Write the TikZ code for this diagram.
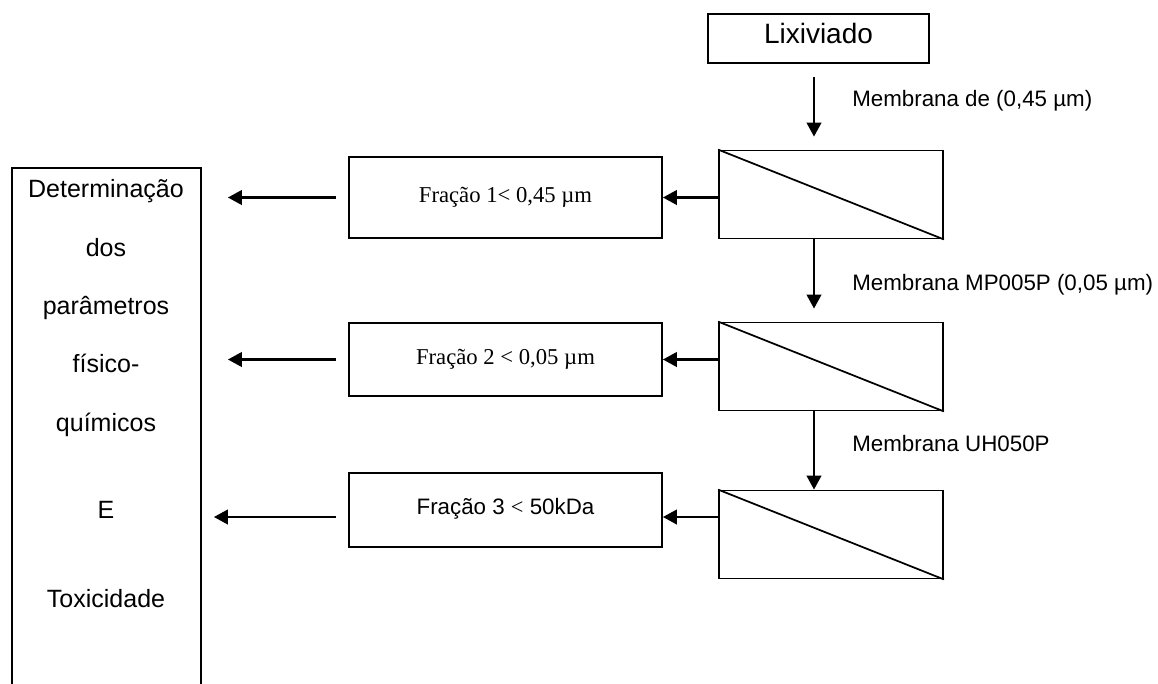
\documentclass[tikz,border=0pt]{standalone}
\usepackage{fontspec}
\setmainfont{Liberation Sans}
\newfontfamily\timesfont{Liberation Serif}
\usetikzlibrary{positioning, arrows.meta}

\begin{document}
\begin{tikzpicture}[
        x=0.75pt, y=-0.75pt,
        box/.style={rectangle, draw=black, line width=1.4pt, inner sep=0pt, align=center, text height=0.72em, text depth=0pt},
        membbox/.style={box, minimum width=168pt, minimum height=66pt},
        fracbox/.style={box, minimum width=234.75pt, font=\fontsize{17}{20}\timesfont},
        lbl/.style={anchor=west, inner sep=0pt, font=\fontsize{16.75}{20}\selectfont, text height=0.72em, text depth=0pt},
        item/.style={inner sep=0pt, font=\fontsize{18.75}{22}\selectfont, text height=0.72em, text depth=0pt},
        arrow/.style={-{Triangle[width=11pt, length=10.5pt]}, line width=1.6pt}
        ]
        \useasboundingbox (0,0) rectangle (1158,683);

        \node[box, minimum width=165.75pt, minimum height=36.75pt, font=\fontsize{21}{24}\selectfont] (lix) at (818.5,38.5) {Lixiviado};
        \node[membbox] (memb1) at (831,194.5) {};
        \node[membbox] (memb2) at (831,366.5) {};
        \node[membbox] (memb3) at (831,534.5) {};
        \draw[line width=1.3pt] (memb1.north west) -- (memb1.south east);
        \draw[line width=1.3pt] (memb2.north west) -- (memb2.south east);
        \draw[line width=1.3pt] (memb3.north west) -- (memb3.south east);

        \node[fracbox, minimum height=60.75pt] (frac1) at (505.5,197.5) {Fração 1< 0,45 µm};
        \node[fracbox, minimum height=54.75pt] (frac2) at (505.5,359.5) {Fração 2 < 0,05 µm};
        \node[fracbox, minimum height=55.5pt, font=\fontsize{16.75}{20}\selectfont] (frac3) at (505.5,510) {Fração 3 {\timesfont <} 50kDa};

        \node[box, minimum width=141.75pt, minimum height=399pt] (det) at (106.5,434) {};
        \node[item] (tdet) at (106,193) {Determinação};
        \node[item] (tdos) at (106,252) {dos};
        \node[item] (tpar) at (106,310) {parâmetros};
        \node[item] (tfis) at (106,368) {físico-};
        \node[item] (tqui) at (106,427) {químicos};
        \node[item] (te) at (106,514) {E};
        \node[item] (ttox) at (106,603) {Toxicidade};

        \node[lbl] (lbl1) at (852,102) {Membrana de (0,45 µm)};
        \node[lbl] (lbl2) at (852,286) {Membrana MP005P (0,05 µm)};
        \node[lbl] (lbl3) at (852,447) {Membrana UH050P};

        \coordinate (flow) at (814,0);
        \draw[arrow, shorten <=9.75pt, shorten >=9.75pt] (lix.south -| flow) -- (memb1.north -| flow);
        \draw[arrow, shorten >=9.75pt] (memb1.south -| flow) -- (memb2.north -| flow);
        \draw[arrow] (memb2.south -| flow) -- (memb3.north -| flow);

        \draw[arrow] (frac1.east -| memb1.west) -- (frac1.east);
        \draw[arrow] (frac2.east -| memb2.west) -- (frac2.east);
        \draw[arrow] ([yshift=-5.25pt]frac3.east -| memb3.west) -- ([yshift=-5.25pt]frac3.east);

        \draw[arrow, shorten <=9pt, shorten >=19.5pt] (frac1.west) -- (frac1.west -| det.east);
        \draw[arrow, shorten <=9pt, shorten >=19.5pt] (frac2.west) -- (frac2.west -| det.east);
        \draw[arrow, shorten <=9pt, shorten >=9pt] ([yshift=-5.25pt]frac3.west) -- ([yshift=-5.25pt]frac3.west -| det.east);
\end{tikzpicture}
\end{document}
